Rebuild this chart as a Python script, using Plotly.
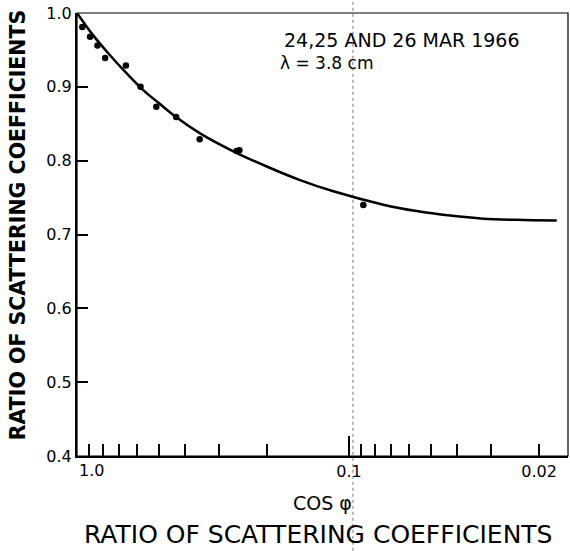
import plotly.graph_objects as go

# Observed points (cos phi, ratio of scattering coefficients)
cos_obs = [0.956, 0.895, 0.841, 0.788, 0.661, 0.584, 0.511, 0.432, 0.354, 0.259, 0.253, 0.0886]
ratio_obs = [0.981, 0.968, 0.956, 0.939, 0.929, 0.900, 0.873, 0.859, 0.829, 0.813, 0.814, 0.740]

# Fitted curve
curve_cos = [1.0, 0.876, 0.7606, 0.6605, 0.5735, 0.498, 0.4325, 0.3529, 0.2663, 0.2007,
             0.1514, 0.1142, 0.0748, 0.0564, 0.0425, 0.0321, 0.0242, 0.01723]
curve_ratio = [1.0, 0.9707, 0.9438, 0.9191, 0.8963, 0.8774, 0.8591, 0.8370, 0.8127, 0.7921,
               0.7737, 0.7585, 0.7404, 0.7317, 0.7256, 0.7215, 0.7199, 0.7188]

# Axis ticks
x_major_vals = [0.1, 0.02]
x_major_text = ["0.1", "0.02"]
x_minor_vals = [0.9, 0.8, 0.7, 0.6, 0.5, 0.4, 0.3, 0.2, 0.09, 0.08, 0.07, 0.06, 0.05, 0.04, 0.03]
x_long_vals = [0.1]
y_vals = [0.4, 0.5, 0.6, 0.7, 0.8, 0.9, 1.0]
y_text = ["0.4", "0.5", "0.6", "0.7", "0.8", "0.9", "1.0"]

FONT = "DejaVu Sans"
XR = [0, -1.805]

fig = go.Figure()
fig.add_trace(go.Scatter(
    x=curve_cos, y=curve_ratio, mode="lines", xaxis="x2", yaxis="y",
    line=dict(color="black", width=2.5, shape="spline", smoothing=1.0),
    hoverinfo="skip", showlegend=False))
fig.add_trace(go.Scatter(
    x=cos_obs, y=ratio_obs, mode="markers",
    marker=dict(color="black", size=6.5),
    showlegend=False))

fig.update_layout(
    width=570, height=551,
    margin=dict(l=77, r=2, t=13, b=95),
    paper_bgcolor="white", plot_bgcolor="white",
    font=dict(family=FONT, color="black", size=16),
    xaxis=dict(
        type="log", range=XR, showgrid=False, zeroline=False,
        showline=True, linecolor="black", linewidth=2,
        tickmode="array", tickvals=x_major_vals, ticktext=x_major_text,
        ticks="inside", ticklen=12, tickwidth=1.5, tickcolor="black",
        tickfont=dict(size=16, family=FONT),
        minor=dict(tickmode="array", tickvals=x_minor_vals, ticks="inside",
                   ticklen=12, tickwidth=1.5, tickcolor="black", showgrid=False),
    ),
    xaxis2=dict(
        type="log", range=XR, overlaying="x", anchor="y", side="bottom",
        showgrid=False, zeroline=False, showline=False,
        tickmode="array", tickvals=x_long_vals, showticklabels=False,
        ticks="inside", ticklen=20, tickwidth=1.5, tickcolor="black",
    ),
    yaxis=dict(
        range=[0.4, 1.0], showgrid=False, zeroline=False,
        showline=True, linecolor="black", linewidth=2,
        tickmode="array", tickvals=y_vals, ticktext=y_text,
        ticks="inside", ticklen=11, tickwidth=1.5, tickcolor="black",
        tickfont=dict(size=16, family=FONT),
    ),
)

# Thin frame (top/right)
fig.add_shape(type="rect", xref="paper", yref="paper", x0=0, x1=1, y0=0, y1=1,
              line=dict(color="black", width=1.2))
# Fold line of the scanned page
fig.add_shape(type="line", xref="paper", yref="paper", x0=0.562, x1=0.562,
              y0=-0.214, y1=1.03, line=dict(color="rgba(60,60,60,0.7)", width=1, dash="dot"))

fig.add_annotation(x=0, y=0, xref="x", yref="paper", text="1.0", xanchor="left",
                   yanchor="top", yshift=-3, font=dict(family=FONT, size=16, color="black"),
                   showarrow=False)
fig.add_annotation(x=0.4175, y=0.939, xref="paper", yref="paper", xanchor="left", yanchor="middle",
                   text="24,25 AND 26 MAR 1966", showarrow=False,
                   font=dict(family=FONT, size=19, color="black"))
fig.add_annotation(x=0.409, y=0.887, xref="paper", yref="paper", xanchor="left", yanchor="middle",
                   text="λ = 3.8 cm", showarrow=False,
                   font=dict(family=FONT, size=17, color="black"))
fig.add_annotation(x=0.501, y=-0.106, xref="paper", yref="paper", xanchor="center", yanchor="middle",
                   text="COS φ", showarrow=False,
                   font=dict(family=FONT, size=19, color="black"))
fig.add_annotation(x=0.49, y=-0.178, xref="paper", yref="paper", xanchor="center", yanchor="middle",
                   text="RATIO OF SCATTERING COEFFICIENTS", showarrow=False,
                   font=dict(family=FONT, size=25, color="black"))
fig.add_annotation(x=-0.120, y=0.521, xref="paper", yref="paper", xanchor="center", yanchor="middle",
                   text="<b>RATIO OF SCATTERING COEFFICIENTS</b>", textangle=-90, showarrow=False,
                   font=dict(family=FONT, size=20.5, color="black"))

fig.write_html("out.html")
